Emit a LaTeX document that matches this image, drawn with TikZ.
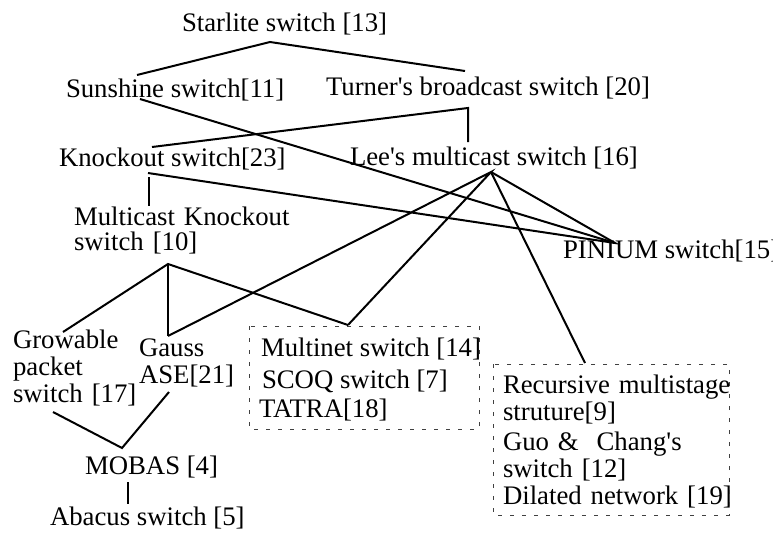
\documentclass[tikz,border=0pt]{standalone}
\usepackage{fontspec}
\setmainfont{Liberation Serif}[Ligatures=TeXOff]
\begin{document}
\begin{tikzpicture}[x=1pt,y=-1pt,
  lbl/.style={anchor=base west,inner sep=0pt,outer sep=0pt,
    font=\fontsize{26.75}{27}\selectfont},
  multi/.style={lbl,text width=#1,align=left},
  edge/.style={line width=2pt,line cap=butt,line join=miter},
  group/.style={draw=black!75,line width=1pt,dash pattern=on 4pt off 8pt}]
\useasboundingbox (0,0) rectangle (773,533);

% switch labels
\node[lbl] (starlite) at (182,31) {Starlite switch [13]};
\node[lbl] (sunshine) at (66,97) {Sunshine switch[11]};
\node[lbl] (turner) at (326,95) {Turner's broadcast switch [20]};
\node[lbl] (knockout) at (59,166) {Knockout switch[23]};
\node[lbl] (lee) at (350,165) {Lee's multicast switch [16]};
\node[multi=300pt,font=\fontsize{26.75}{25}\selectfont] (mko) at (74,225) {Multicast Knockout\\switch [10]};
\node[lbl] (pinium) at (563,258) {PINIUM switch[15]};
\node[multi=200pt] (growable) at (13,348) {Growable\\packet\\switch [17]};
\node[multi=150pt] (gauss) at (139,356) {Gauss\\ASE[21]};
\node[lbl] (mobas) at (85,474) {MOBAS [4]};
\node[lbl] (abacus) at (50,525) {Abacus switch [5]};

% first group
\node[lbl] (multinet) at (261,356) {Multinet switch [14]};
\node[lbl] (scoq) at (262,388) {SCOQ switch [7]};
\node[lbl] (tatra) at (259,417) {TATRA[18]};
\draw[group] (249,326) rectangle (479,429);

% second group
\node[multi=300pt] (recursive) at (503,393) {Recursive multistage\\struture[9]\\[3pt]Guo \&\ \ Chang's\\switch [12]\\Dilated network [19]};
\draw[group] (493,364) rectangle (729,515);

% connection points
\coordinate (starlite-b) at (270,42);
\coordinate (sunshine-t) at (137,75);
\coordinate (sunshine-b) at (140,99);
\coordinate (turner-t) at (465,71);
\coordinate (turner-b) at (468,108);
\coordinate (lee-t) at (468,142);
\coordinate (lee-b) at (491,172);
\coordinate (knockout-t) at (152,147);
\coordinate (knockout-b) at (148,173);
\coordinate (knockout-v) at (149,177);
\coordinate (mko-t) at (149,206);
\coordinate (mko-b) at (168,264);
\coordinate (pinium-t) at (615,243);
\coordinate (growable-t) at (63,332);
\coordinate (growable-b) at (53,412);
\coordinate (gauss-t) at (168,336);
\coordinate (gauss-b) at (169,392);
\coordinate (multinet-t) at (348,325);
\coordinate (recursive-t) at (585,363);
\coordinate (mobas-t) at (122,448);
\coordinate (mobas-b) at (128,482);
\coordinate (abacus-t) at (128,504);

% connectors
\draw[edge] (sunshine-t) -- (starlite-b) -- (turner-t);
\draw[edge] (knockout-t) -- (turner-b) -- (lee-t);
\draw[edge] (sunshine-b) -- (pinium-t);
\draw[edge] (knockout-b) -- (pinium-t) -- (lee-b);
\draw[edge] (knockout-v) -- (mko-t);
\draw[edge] (gauss-t) -- (lee-b) -- (multinet-t);
\draw[edge] (lee-b) -- (recursive-t);
\draw[edge] (growable-t) -- (mko-b) -- (multinet-t);
\draw[edge] (mko-b) -- (gauss-t);
\draw[edge] (growable-b) -- (mobas-t) -- (gauss-b);
\draw[edge] (mobas-b) -- (abacus-t);
\end{tikzpicture}
\end{document}
